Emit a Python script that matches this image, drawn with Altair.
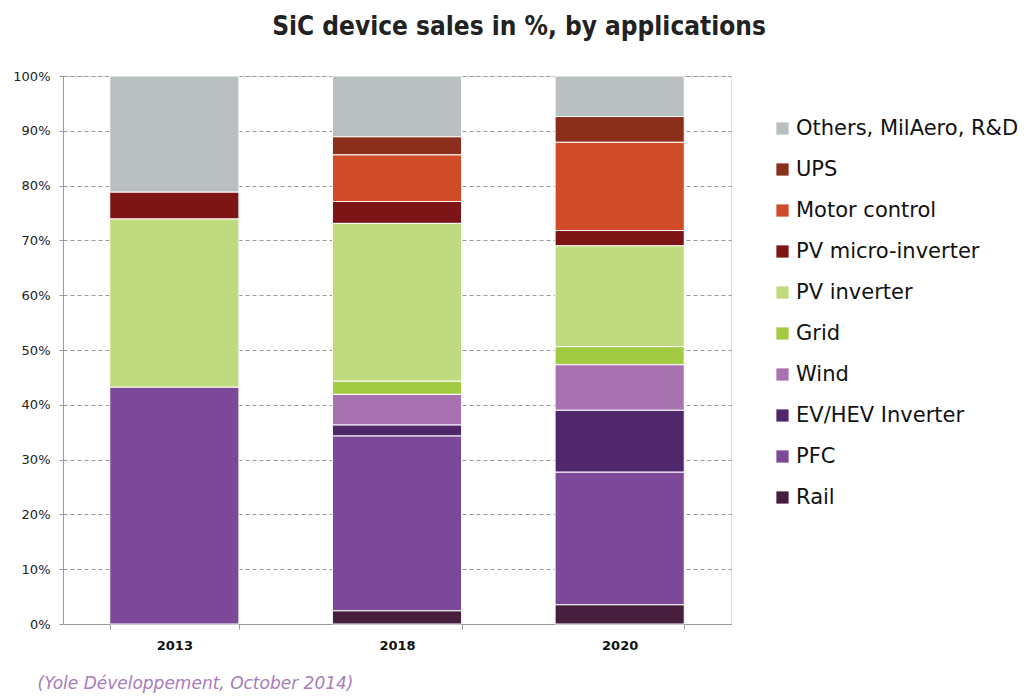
import altair as alt
import pandas as pd

years = ["2013", "2018", "2020"]
segments = ["Others, MilAero, R&D", "UPS", "Motor control", "PV micro-inverter",
            "PV inverter", "Grid", "Wind", "EV/HEV Inverter", "PFC", "Rail"]
colors = ["#BABFC2", "#8B2E1C", "#D04C28", "#7D1416", "#C0DA7E",
          "#A2CA42", "#A872B0", "#4F276A", "#7B4998", "#471E3E"]

v2013 = [21.2, 0.0, 0.0, 4.9, 30.7, 0.0, 0.0, 0.0, 43.2, 0.0]
v2018 = [11.1, 3.3, 8.5, 4.0, 28.8, 2.4, 5.6, 2.0, 31.9, 2.4]
v2020 = [7.4, 4.7, 16.1, 2.8, 18.4, 3.3, 8.3, 11.3, 24.2, 3.5]

rows = []
for yr, vals in zip(years, [v2013, v2018, v2020]):
    for i, (s, v) in enumerate(zip(segments, vals)):
        if v > 0:
            rows.append({"year": yr, "segment": s, "value": v,
                         "order": len(segments) - i})
df = pd.DataFrame(rows)

FONT = "DejaVu Sans"

chart = alt.Chart(df).mark_bar(
    stroke="white", strokeWidth=1
).encode(
    x=alt.X("year:N", sort=years,
            scale=alt.Scale(paddingInner=0.42, paddingOuter=0.21),
            axis=alt.Axis(title="(Yole Développement, October 2014)",
                          titleFont=FONT, titleFontSize=17, titleFontStyle="italic",
                          titleFontWeight="normal", titleColor="#A77CBB",
                          titleAnchor="start", titleAlign="left", titleX=-26, titleY=64,
                          titleBaseline="alphabetic",
                          labelFont=FONT, labelFontSize=13, labelFontWeight="bold",
                          labelColor="#111", labelAngle=0, labelPadding=10,
                          tickBand="extent", tickSize=5, tickColor="#999",
                          domainColor="#999", grid=False)),
    y=alt.Y("value:Q", stack="zero",
            scale=alt.Scale(domain=[0, 100], nice=False),
            axis=alt.Axis(title=None, values=list(range(0, 101, 10)),
                          labelExpr="datum.value + '%'",
                          labelFont=FONT, labelFontSize=13, labelColor="#222",
                          labelPadding=9, tickSize=4, tickColor="#999",
                          domainColor="#999", gridColor="#999", gridDash=[4, 3],
                          gridWidth=1)),
    color=alt.Color("segment:N",
                    scale=alt.Scale(domain=segments, range=colors),
                    legend=alt.Legend(title=None, orient="none", legendX=709, legendY=42,
                                      symbolType="square", symbolSize=150,
                                      symbolStrokeWidth=0, labelFont=FONT,
                                      labelFontSize=21, labelColor="#111",
                                      labelOffset=3, rowPadding=19,
                                      labelLimit=400)),
    order=alt.Order("order:Q", sort="ascending"),
).properties(
    width=668, height=548,
    title=alt.TitleParams("SiC device sales in %, by applications",
                          font="DejaVu Sans Condensed, DejaVu Sans", fontSize=26,
                          fontWeight="bold", color="#222", anchor="middle",
                          dx=122, offset=30),
    autosize=alt.AutoSizeParams(type="none"),
    padding={"left": 55, "top": 68, "right": 290, "bottom": 72},
).configure_view(stroke=None).configure(background="white")

chart.save("out.html", embed_options={"renderer": "svg", "actions": False})
